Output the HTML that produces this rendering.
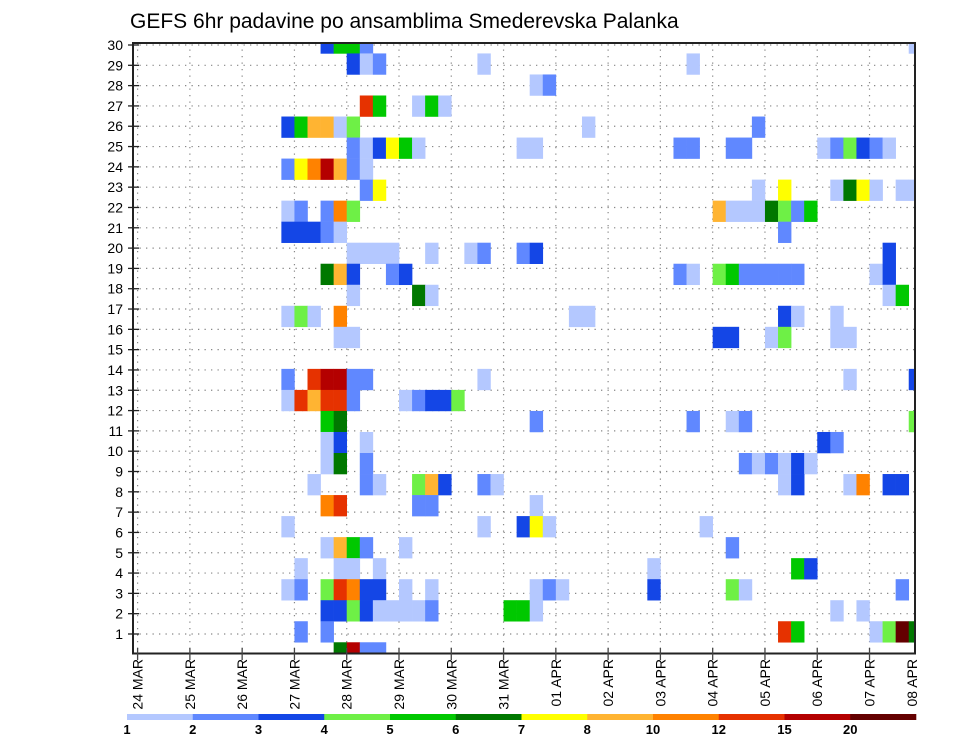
<!DOCTYPE html>
<html><head><meta charset="utf-8"><style>
html,body{margin:0;padding:0;background:#fff;}
svg{display:block;font-family:"Liberation Sans",sans-serif;}
</style></head><body>
<svg id="chart" width="960" height="742" viewBox="0 0 960 742">
<text x="130" y="28" font-size="21" fill="#000">GEFS 6hr padavine po ansamblima Smederevska Palanka</text>
<g id="grid"></g>
<g id="cells"></g>
<g id="axes"></g>
<g id="legend"></g>
</svg>
<script>
// ---- data ----
const dayLabels = ["24 MAR","25 MAR","26 MAR","27 MAR","28 MAR","29 MAR","30 MAR","31 MAR","01 APR","02 APR","03 APR","04 APR","05 APR","06 APR","07 APR","08 APR"];
const memberTicks = [1,2,3,4,5,6,7,8,9,10,11,12,13,14,15,16,17,18,19,20,21,22,23,24,25,26,27,28,29,30];
const levelLabels = ["1","2","3","4","5","6","7","8","10","12","15","20"];
const levelColors = ["#b4c8ff","#6088ff","#1446e6","#6ef046","#00c800","#007800","#ffff00","#ffb432","#ff8200","#e63200","#b40000","#640000"];
const levelCodes = "abcdefghijkl";
// rows listed top to bottom; each entry "<6h time index><level code>"
const cellRows = [
"14c 15e 16e 17b 59a",
"16c 17a 18b 26a 42a",
"30a 31b",
"17j 18e 21a 22e 23a",
"11c 12e 13h 14h 15a 16d 34a 47b",
"16b 17a 18c 19g 20e 21a 29a 30a 41b 42b 45b 46b 52a 53b 54d 55c 56b 57a",
"11b 12g 13i 14k 15h 16b 17a",
"17b 18g 47a 49g 53a 54f 55g 56a 58a 59a",
"11a 12b 14b 15i 16d 44h 45a 46a 47a 48f 49d 50b 51e",
"11c 12c 13c 14b 15a 49b",
"16a 17a 18a 19a 22a 25a 26b 29b 30c 57c",
"14f 15h 16c 19b 20c 41b 42a 44d 45e 46b 47b 48b 49b 50b 56a 57c",
"16a 21f 22a 57a 58e",
"11a 12d 13a 15i 33a 34a 49c 50a 53a",
"15a 16a 44c 45c 48a 49d 53a 54a",
"",
"11b 13j 14k 15k 16b 17b 26a 54a 59c",
"11a 12j 13h 14j 15j 16b 20a 21b 22c 23c 24d",
"14e 15f 30b 42b 45a 46b 59d",
"14a 15c 17a 52c 53b",
"14a 15f 17b 46b 47a 48b 49a 50c 51a",
"13a 17b 18a 21d 22h 23c 26b 27a 49a 50c 54a 55i 57c 58c",
"14i 15j 21b 22b 30a",
"11a 26a 29c 30g 31a 43a",
"14a 15h 16e 17b 20a 45b",
"12a 15a 16a 18a 39a 50e 51c",
"11a 12b 14d 15j 16i 17c 18c 20a 22a 30a 31b 32a 39c 45d 46a 58b",
"14c 15c 16d 17c 18a 19a 20a 21a 22b 28e 29e 30a 53a 55a",
"12b 14b 49j 50e 56a 57d 58l 59f",
"15f 16k 17b 18b"
];
// ---- scales ----
const L=133, R=915, T=43, B=653.5;
const NS="http://www.w3.org/2000/svg";
function xScale(t){return 137.6 + 13.07*t;}        // t = 6h steps from 24 MAR 00Z
function rowY(j){return 43 + 21.03*j;}              // row centre, top to bottom
function tickY(m){return 654.3 - 20.31*m;}          // y-axis label position
function mk(tag,attrs,parent){const e=document.createElementNS(NS,tag);for(const k in attrs)e.setAttribute(k,attrs[k]);parent.appendChild(e);return e;}

const grid=document.getElementById('grid'), cells=document.getElementById('cells'), axes=document.getElementById('axes'), legend=document.getElementById('legend');
mk('clipPath',{id:'plotclip'},document.getElementById('chart'));
mk('rect',{x:L,y:T,width:R-L,height:B-T},document.getElementById('plotclip'));
cells.setAttribute('clip-path','url(#plotclip)');

// grid
memberTicks.forEach(m=>{
  const y=tickY(m);
  const g=mk('line',{x1:L,x2:R,y1:y,y2:y,stroke:'#888','stroke-width':1.2,'stroke-dasharray':'1.3 5.2'},grid);
  
  
});
dayLabels.forEach((d,i)=>{
  const x=xScale(i*4);
  if(x>R) return;
  const g=mk('line',{x1:x,x2:x,y1:T,y2:B,stroke:'#888','stroke-width':1.2,'stroke-dasharray':'1.3 5.2'},grid);
  
  
});

// cells
cellRows.forEach((row,j)=>{
  if(!row) return;
  row.split(' ').forEach(tok=>{
    const t=parseInt(tok,10), lv=levelCodes.indexOf(tok.slice(-1));
    const x0=xScale(t), x1=xScale(t+1), yc=rowY(j);
    const r=mk('rect',{x:x0,y:yc-10.6,width:x1-x0+0.3,height:21.3,fill:levelColors[lv]},cells);
    
    
  });
});

// border
const border=mk('rect',{x:L,y:T,width:R-L,height:B-T,fill:'none',stroke:'#222','stroke-width':2},axes);



// y ticks + labels
memberTicks.forEach(m=>{
  const y=tickY(m);
  const tk=mk('line',{x1:128,x2:139,y1:y,y2:y,stroke:'#222','stroke-width':1.3},axes);
  
  
  const tx=mk('text',{x:123,y:y+5,'font-size':14,'text-anchor':'end',fill:'#000'},axes);
  tx.textContent=m;
  
  
});

// x ticks + labels
dayLabels.forEach((d,i)=>{
  let x=xScale(i*4);
  const tx0=Math.min(x,912);
  if(x<=R){
    const tk=mk('line',{x1:x,x2:x,y1:648,y2:660,stroke:'#444','stroke-width':1.3},axes);
    
    
  }
  const tx=mk('text',{x:0,y:0,'font-size':14,'text-anchor':'end',fill:'#000',transform:'translate('+(tx0+5)+',659) rotate(-90)'},axes);
  tx.textContent=d;
  
  
});

// legend
const segW=(916-127)/levelColors.length;
levelColors.forEach((c,i)=>{
  const r=mk('rect',{x:127+i*segW,y:714,width:segW+0.3,height:6,fill:c},legend);
  
  
  const tx=mk('text',{x:127+i*segW,y:734,'font-size':13,'font-weight':'bold','text-anchor':'middle',fill:'#000'},legend);
  tx.textContent=levelLabels[i];
  
  
});
</script>
</body></html>
